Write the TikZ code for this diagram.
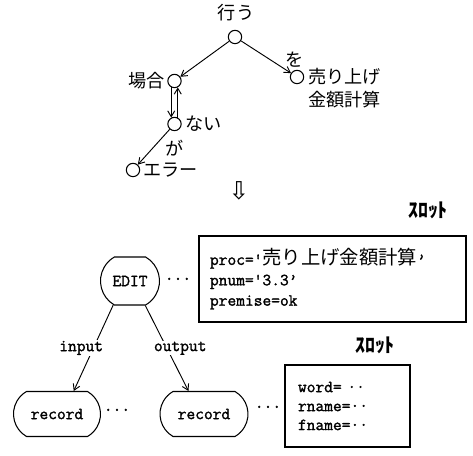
\documentclass[tikz,border=0pt]{standalone}
\usepackage{fontspec}
\usetikzlibrary{arrows.meta,shapes.misc}
\newfontfamily\jpfont{Noto Sans CJK JP}
\newfontfamily\ttfont{Latin Modern Mono}[FakeBold=1.6]
\newfontfamily\symfont{DejaVu Sans}
\tikzset{
  smcirc/.style={circle, draw=black, line width=0.9pt, minimum size=0.4cm, inner sep=0pt},
  smlink/.style={line width=0.8pt, draw=black, -{Straight Barb[length=5pt,width=6pt]}},
  smjp/.style={font=\jpfont\fontsize{15.5}{19.6}\selectfont, inner sep=0pt},
  smslot/.style={font=\jpfont\bfseries\fontsize{17}{17}\selectfont, inner sep=0pt},
  smtt/.style={font=\ttfont\fontsize{14.5}{17.4}\selectfont},
  smnode/.style={smtt, rounded rectangle, rounded rectangle arc length=120, draw=black, line width=0.9pt, inner sep=0pt},
  smbox/.style={smtt, draw=black, line width=1pt, align=left, inner ysep=0pt},
  smlbl/.style={smtt, fill=white, inner sep=0.5pt},
  smdots/.style={smtt, inner sep=0pt},
}
\begin{document}
\begin{tikzpicture}
\useasboundingbox (0,0) rectangle (14.19,13.68);
% upper graph
\node[smcirc] (go) at (7.05,12.57) {};
\node[smcirc] (bai) at (5.235,11.25) {};
\node[smcirc] (uri) at (8.91,11.37) {};
\node[smcirc] (nai) at (5.235,9.96) {};
\node[smcirc] (err) at (3.99,8.58) {};
\node[smjp] (t-go) at (7.08,13.29) {行う};
\node[smjp, anchor=east] (t-bai) at (4.95,11.25) {場合};
\node[smjp, anchor=west, align=left] (t-uri) at (9.24,11.025) {売り上げ\\金額計算};
\node[smjp, anchor=west] (t-nai) at (5.55,9.96) {ない};
\node[smjp, anchor=west] (t-err) at (4.29,8.58) {エラー};
\draw[smlink] (go) -- (bai);
\draw[smlink] (go) -- (uri);
\node[smjp] (t-wo) at (8.85,11.88) {を};
\draw[smlink] (bai.-117) -- (nai.117);
\draw[smlink] (nai.63) -- (bai.-63);
\draw[smlink] (nai) -- (err);
\node[smjp] (t-ga) at (5.25,9.24) {が};
\node[font=\symfont\fontsize{21}{21}\selectfont, inner sep=0pt] (down) at (7.17,7.95) {⇩};
% frame structure
\node[smslot] (slot1) at (12.84,7.38) {ｽﾛｯﾄ};
\node[smnode, minimum width=1.77cm, minimum height=1.44cm] (edit) at (3.9,5.25) {EDIT};
\node[smdots] (dots1) at (5.34,5.25) {···};
\node[smbox, minimum width=8.01cm, minimum height=2.58cm, text width=7.35cm, inner xsep=0.33cm] (frame1) at (9.975,5.31)
  {proc='{\jpfont\fontsize{16.5}{17.4}\selectfont 売り上げ金額計算}’\\pnum='3.3’\\premise=ok};
\node[smnode, minimum width=2.61cm, minimum height=1.35cm] (rec1) at (1.71,1.26) {record};
\node[smdots] (dots2) at (3.51,1.32) {···};
\node[smnode, minimum width=2.64cm, minimum height=1.35cm] (rec2) at (6.12,1.26) {record};
\node[smdots] (dots3) at (8.04,1.41) {···};
\node[smslot] (slot2) at (11.25,3.33) {ｽﾛｯﾄ};
\node[smbox, font=\ttfont\fontsize{14.5}{16.2}\selectfont, minimum width=3.75cm, minimum height=2.46cm, text width=2.97cm, inner xsep=0.39cm] (frame2) at (10.425,1.5)
  {word= ··\\rname=··\\fname=··};
\draw[smlink] (edit.235) -- node[smlbl, xshift=-0.37cm] (l-in) {input} (rec1.54);
\draw[smlink] (edit.302) -- node[smlbl, xshift=0.4cm] (l-out) {output} (rec2.124);
\end{tikzpicture}
\end{document}
